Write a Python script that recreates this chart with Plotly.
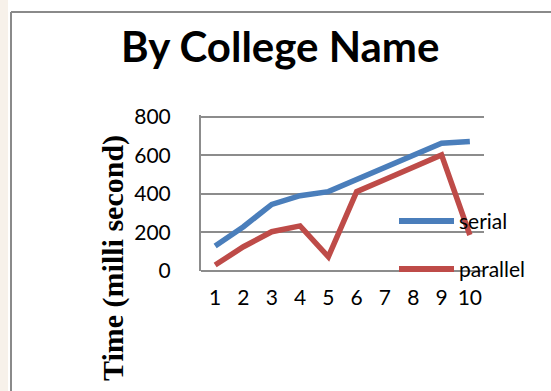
import plotly.graph_objects as go

categories = ["1", "2", "3", "4", "5", "6", "7", "8", "9", "10"]
serial = [130, 230, 346, 391, 412, 475, 540, 602, 663, 672]
parallel = [31, 126, 204, 234, 74, 412, 475, 540, 603, 187]
series_names = ["serial", "parallel"]
series_colors = ["#4A7EBB", "#BE4B48"]
y_ticks = [0, 200, 400, 600, 800]
title_text = "By College Name"
y_title = "Time (milli second)"

W, H = 551, 391
L, R, T, B = 201, 484, 115, 271  # plot area in pixels


def px(x):
    return (x - L) / (R - L)


def py(y):
    return (B - y) / (B - T)


fig = go.Figure()
for name, vals, col in zip(series_names, [serial, parallel], series_colors):
    fig.add_trace(go.Scatter(x=categories, y=vals, mode="lines", name=name,
                             line=dict(color=col, width=5.5), showlegend=False))

# legend drawn manually (Excel style: line then overlapping label)
leg_y = [221, 269]
for name, col, ly in zip(series_names, series_colors, leg_y):
    fig.add_shape(type="line", xref="paper", yref="paper",
                  x0=px(399), x1=px(454), y0=py(ly), y1=py(ly),
                  line=dict(color=col, width=6), layer="above")
    fig.add_annotation(xref="paper", yref="paper", x=px(457), y=py(ly - 1),
                       text=name, showarrow=False, xanchor="left", yanchor="middle",
                       font=dict(family="Lato", size=21, color="#000000"))

# chart border (cropped Excel chart area)
fig.add_shape(type="line", xref="paper", yref="paper",
              x0=px(11), x1=px(11), y0=py(12), y1=py(395),
              line=dict(color="#8a8a8a", width=2))
fig.add_shape(type="line", xref="paper", yref="paper",
              x0=px(11), x1=px(555), y0=py(12), y1=py(12),
              line=dict(color="#8a8a8a", width=2))
fig.add_shape(type="rect", xref="paper", yref="paper",
              x0=px(0), x1=px(8), y0=py(0), y1=py(391),
              line=dict(width=0), fillcolor="#f7f1ea", layer="below")

# title
fig.add_annotation(xref="paper", yref="paper", x=px(280), y=py(46),
                   text="<b>" + title_text + "</b>", showarrow=False,
                   xanchor="center", yanchor="middle",
                   font=dict(family="Lato", size=42, color="#000000"))
# y-axis title
fig.add_annotation(xref="paper", yref="paper", x=px(113), y=py(258),
                   text="<b>" + y_title + "</b>", showarrow=False, textangle=-90,
                   xanchor="center", yanchor="middle",
                   font=dict(family="Liberation Serif", size=30, color="#000000"))

fig.update_layout(
    width=W, height=H,
    margin=dict(l=L, r=W - R, t=T, b=H - B, pad=0),
    paper_bgcolor="white", plot_bgcolor="white",
    showlegend=False,
    xaxis=dict(type="category", range=[-0.5, 9.5], showgrid=False,
               showline=False, zeroline=False, ticks="",
               tickfont=dict(family="Lato", size=21, color="#000000"),
               ticklabelstandoff=12, fixedrange=True),
    yaxis=dict(range=[0, 810], tickvals=y_ticks, showgrid=True,
               gridcolor="#8c8c8c", gridwidth=2, showline=True,
               linecolor="#8c8c8c", linewidth=2, zeroline=True,
               zerolinecolor="#8c8c8c", zerolinewidth=2, ticks="",
               tickfont=dict(family="Lato", size=21, color="#000000"),
               ticklabelstandoff=24, fixedrange=True),
)

fig.write_html("out.html")
